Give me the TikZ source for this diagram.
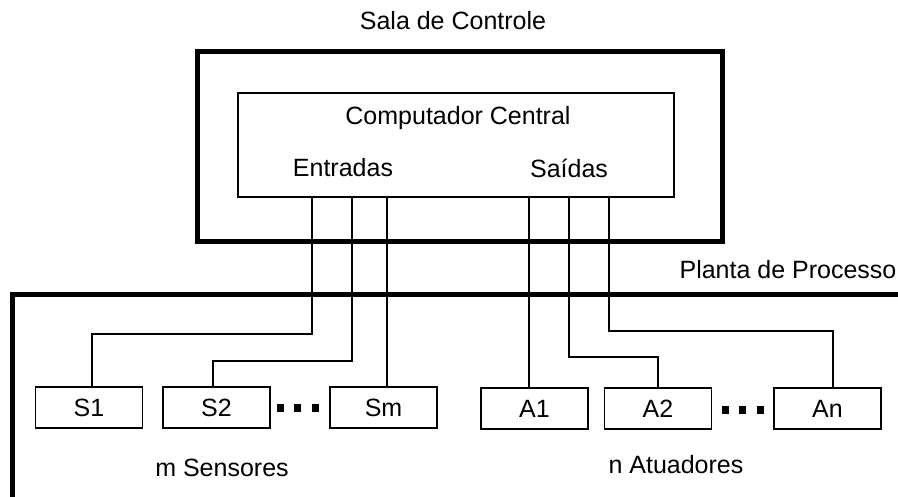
\documentclass[tikz,border=0pt]{standalone}
\usepackage{fontspec}
\setmainfont{Liberation Sans}
\begin{document}
\begin{tikzpicture}[x=1pt,y=-1pt,
  lbl/.style={inner sep=0pt,font=\fontsize{25}{29}\selectfont},
  dev/.style={draw,line width=1.3pt,minimum width=107pt,minimum height=41pt,inner sep=0pt,font=\fontsize{25}{29}\selectfont},
  wire/.style={line width=1.3pt},
  thick box/.style={line width=5pt},
  dotsq/.style={fill=black,minimum size=7pt,inner sep=0pt}]
\useasboundingbox (0,0) rectangle (898,497);
% control room
\node[draw,thick box,minimum width=525pt,minimum height=190pt,inner sep=0pt] (sala) at (459.5,146.5) {};
\node[lbl] (salalbl) at (453,21) {Sala de Controle};
\node[draw,line width=1.5pt,minimum width=436pt,minimum height=104pt,inner sep=0pt] (cc) at (456,145) {};
\node[lbl] (cclbl) at (458,118) {Computador Central};
\node[lbl] (ent) at (343,168) {Entradas};
\node[lbl] (sai) at (569,168) {Saídas};
% process plant
\draw[thick box] (12,500) -- (12,295) -- (900,295);
\node[lbl] (planta) at (788,270) {Planta de Processo};
% devices
\node[dev] (s1) at (89,407.5) {S1};
\node[dev] (s2) at (216.5,407.5) {S2};
\node[dev] (sm) at (383.5,407.5) {Sm};
\node[dev] (a1) at (534.5,408.5) {A1};
\node[dev] (a2) at (658,408.5) {A2};
\node[dev] (an) at (827.5,408.5) {An};
\node[lbl] (sens) at (222,468) {m Sensores};
\node[lbl] (atu) at (676,465) {n Atuadores};
% dots
\node[dotsq] (d1) at (280,408) {};
\node[dotsq] (d2) at (297,408) {};
\node[dotsq] (d3) at (315,408) {};
\node[dotsq] (d4) at (725,410) {};
\node[dotsq] (d5) at (742,410) {};
\node[dotsq] (d6) at (760,410) {};
% wires
\draw[wire] (s1.north -| 92,0) -- (92,334) -- (312,334) -- (cc.south -| 312,0);
\draw[wire] (s2.north -| 213,0) -- (213,361) -- (352,361) -- (cc.south -| 352,0);
\draw[wire] (sm.north -| 387,0) -- (cc.south -| 387,0);
\draw[wire] (a1.north -| 529,0) -- (cc.south -| 529,0);
\draw[wire] (a2.north) -- (a2.north |- 0,357) -- (569,357) -- (cc.south -| 569,0);
\draw[wire] (an.north -| 833,0) -- (833,331) -- (609,331) -- (cc.south -| 609,0);
\end{tikzpicture}
\end{document}
